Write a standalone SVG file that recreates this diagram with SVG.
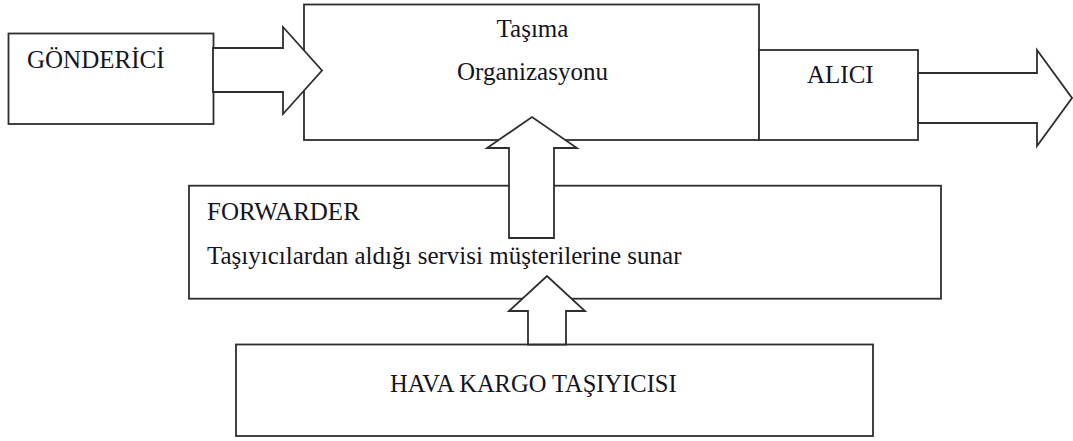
<svg xmlns="http://www.w3.org/2000/svg" width="1073" height="441" viewBox="0 0 1073 441">
<style>
  .box { fill: #ffffff; stroke: #2e2e2e; stroke-width: 1.8; }
  .arrow { fill: #ffffff; stroke: #2e2e2e; stroke-width: 1.8; stroke-linejoin: miter; }
  .lbl { font-family: "Liberation Serif", "Times New Roman", serif; font-size: 25px; fill: #14141e; }
  .mid { text-anchor: middle; }
</style>
<rect width="1073" height="441" fill="#ffffff"/>
<g id="gonderici">
  <rect class="box" x="8.5" y="33.5" width="205" height="90.5"/>
  <text class="lbl" x="27" y="68">GÖNDERİCİ</text>
</g>
<g id="tasima-organizasyonu">
  <rect class="box" x="304" y="4.5" width="455" height="135.5"/>
  <text class="lbl mid" x="532.5" y="37">Taşıma</text>
  <text class="lbl mid" x="532.5" y="80">Organizasyonu</text>
</g>
<g id="alici">
  <rect class="box" x="759" y="50" width="159" height="90"/>
  <text class="lbl" x="807" y="83">ALICI</text>
</g>
<g id="forwarder">
  <rect class="box" x="189" y="185.7" width="752" height="113"/>
  <text class="lbl" x="207" y="220">FORWARDER</text>
  <text class="lbl" x="207" y="263.5">Taşıyıcılardan aldığı servisi müşterilerine sunar</text>
</g>
<g id="hava-kargo-tasiyicisi">
  <rect class="box" x="236" y="344.5" width="637" height="91.5"/>
  <text class="lbl" x="390" y="392" style="font-size:24.5px">HAVA KARGO TAŞIYICISI</text>
</g>
<g id="connectors">
  <polygon class="arrow" points="213,48 283,48 283,27 322,70.5 283,114 283,92 213,92"/>
  <polygon class="arrow" points="918,73 1037,73 1037,50 1072,98 1037,146 1037,123 918,123"/>
  <polygon class="arrow" points="509,238 509,148 487,148 532,117 577,148 554,148 554,238"/>
  <polygon class="arrow" points="528,344.5 528,311 509,311 547,276 585,311 566,311 566,344.5"/>
</g>
</svg>
